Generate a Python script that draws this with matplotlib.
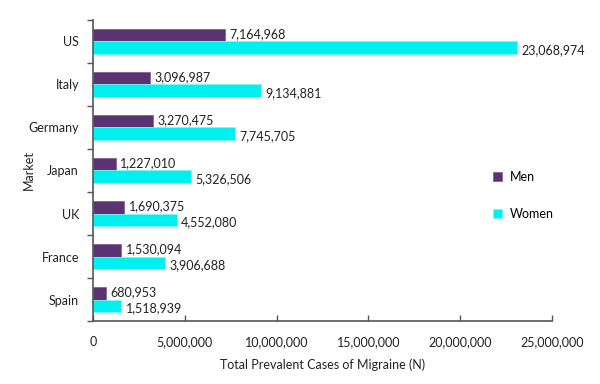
import matplotlib
matplotlib.use("Agg")
import matplotlib.pyplot as plt
import numpy as np
from matplotlib.ticker import FuncFormatter, FixedLocator

markets = ["US", "Italy", "Germany", "Japan", "UK", "France", "Spain"]
men = [7164968, 3096987, 3270475, 1227010, 1690375, 1530094, 680953]
women = [23068974, 9134881, 7745705, 5326506, 4552080, 3906688, 1518939]

plt.rcParams['font.family'] = ['Lato', 'DejaVu Sans']

fig = plt.figure(figsize=(6, 3.84), dpi=100)
ax = fig.add_axes([0.155, 0.164, 0.765, 0.784])

n = len(markets)
pos = np.arange(n)[::-1].astype(float)
h = 0.28
c_men = "#5B3370"
c_women = "#00F0F0"
bm = ax.barh(pos + h/2, men, height=h, color=c_men, edgecolor="#8A5FA0", linewidth=0.6, label="Men")
bw = ax.barh(pos - h/2, women, height=h, color=c_women, edgecolor="#7FF7F7", linewidth=0.6, label="Women")

fs = 9
for b, v in zip(bm, men):
    ax.text(v + 250000, b.get_y() + b.get_height()/2 + 0.04, f"{v:,}", va="center", ha="left",
            fontsize=fs, color="#222222")
for b, v in zip(bw, women):
    ax.text(v + 250000, b.get_y() + b.get_height()/2 - 0.07, f"{v:,}", va="center", ha="left",
            fontsize=fs, color="#222222")

ax.set_xlim(0, 25000000)
ax.set_ylim(-0.5, n - 0.5)
ax.set_xticks(np.arange(0, 25000001, 5000000))
ax.xaxis.set_major_formatter(FuncFormatter(lambda x, p: f"{int(x):,}"))
ax.set_yticks(pos)
ax.set_yticklabels(markets)
ax.yaxis.set_minor_locator(FixedLocator(np.arange(-0.5, n, 1.0)))
ax.tick_params(axis="y", which="major", length=0, pad=10, labelsize=fs, labelcolor="#222222")
ax.tick_params(axis="y", which="minor", length=4, direction="out", color="#555555", width=1)
ax.tick_params(axis="x", which="major", length=4, direction="in", color="#555555", width=1,
               labelsize=fs, labelcolor="#222222", pad=11)

for s in ["top", "right"]:
    ax.spines[s].set_visible(False)
for s in ["left", "bottom"]:
    ax.spines[s].set_color("#555555")
    ax.spines[s].set_linewidth(1.2)

ax.set_xlabel("Total Prevalent Cases of Migraine (N)", fontsize=fs, color="#222222", labelpad=7)
ax.set_ylabel("Market", fontsize=fs, color="#222222")
ax.yaxis.set_label_coords(-0.126, 0.5)

ax.legend(loc="center left", bbox_to_anchor=(0.872, 0.417), frameon=False, fontsize=fs,
          handlelength=0.7, handleheight=0.7, labelspacing=2.0, handletextpad=0.6,
          borderpad=0, borderaxespad=0)

fig.savefig("out.png", dpi=100, facecolor="white")
